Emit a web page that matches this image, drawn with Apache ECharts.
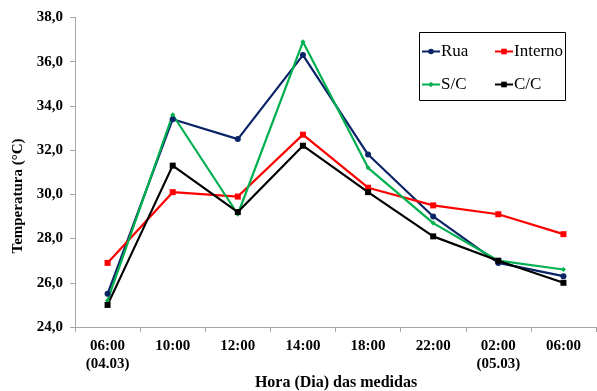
<!DOCTYPE html>
<html>
<head>
<meta charset="utf-8">
<script src="https://cdn.jsdelivr.net/npm/echarts@6/dist/echarts.min.js"></script>
<style>
  html, body { margin: 0; padding: 0; background: #fff; }
  #chart { width: 597px; height: 391px; }
</style>
</head>
<body>
<div id="chart"></div>
<script>
// Measurement times (hour and day)
const categories = ['06:00\n(04.03)', '10:00', '12:00', '14:00', '18:00', '22:00', '02:00\n(05.03)', '06:00'];

// Temperatures (°C) per location
const rua     = [25.5, 33.4, 32.5, 36.3, 31.8, 29.0, 26.9, 26.3];
const interno = [26.9, 30.1, 29.9, 32.7, 30.3, 29.5, 29.1, 28.2];
const sc      = [25.2, 33.6, 29.1, 36.9, 31.2, 28.7, 27.0, 26.6];
const cc      = [25.0, 31.3, 29.2, 32.2, 30.1, 28.1, 27.0, 26.0];

// Y-axis range
const yMin = 24, yMax = 38, yStep = 2;

const FONT = '"Liberation Serif", "Times New Roman", serif';

const seriesDefs = [
  { name: 'Rua',     data: rua,     color: '#0B2468', symbol: 'circle',  size: 6 },
  { name: 'Interno', data: interno, color: '#FF0000', symbol: 'rect',    size: 6 },
  { name: 'S/C',     data: sc,      color: '#00B050', symbol: 'diamond', size: 5 },
  { name: 'C/C',     data: cc,      color: '#000000', symbol: 'rect',    size: 6 }
];

// One legend per entry, laid out as a 2x2 block inside a framed box
const legendPos = [
  { left: 421, top: 43 }, { left: 494, top: 43 },
  { left: 421, top: 76 }, { left: 494, top: 76 }
];

const chart = echarts.init(document.getElementById('chart'));
chart.setOption({
  animation: false,
  backgroundColor: '#ffffff',
  grid: { left: 75, right: 1, top: 17.5, bottom: 64, containLabel: false },
  xAxis: {
    type: 'category',
    data: categories,
    boundaryGap: true,
    axisLine: { lineStyle: { color: '#A6A6A6', width: 1 } },
    axisTick: { show: true, interval: 0, length: 5, lineStyle: { color: '#A6A6A6' } },
    axisLabel: {
      interval: 0, margin: 10,
      fontFamily: FONT, fontWeight: 'bold', fontSize: 15, color: '#000',
      lineHeight: 18
    },
    splitLine: { show: false }
  },
  yAxis: {
    type: 'value',
    min: yMin, max: yMax, interval: yStep,
    axisLine: { show: true, lineStyle: { color: '#A6A6A6', width: 1 } },
    axisTick: { show: true, length: 5, lineStyle: { color: '#A6A6A6' } },
    axisLabel: {
      margin: 12,
      fontFamily: FONT, fontWeight: 'bold', fontSize: 15, color: '#000',
      formatter: v => v.toFixed(1).replace('.', ',')
    },
    splitLine: { show: false }
  },
  legend: seriesDefs.map((s, i) => ({
    data: [s.name],
    left: legendPos[i].left,
    top: legendPos[i].top,
    padding: 0,
    itemWidth: 18,
    itemHeight: 7,
    itemGap: 0,
    textStyle: { fontFamily: FONT, fontSize: 17, color: '#000', padding: [0, 0, 0, -4] },
    selectedMode: false
  })),
  graphic: [
    {
      type: 'rect',
      shape: { x: 419.5, y: 32.5, width: 146, height: 68 },
      style: { fill: 'none', stroke: '#000', lineWidth: 1 },
      z: 100
    },
    {
      type: 'text',
      x: 18, y: 196,
      rotation: Math.PI / 2,
      style: {
        text: 'Temperatura (°C)',
        font: 'bold 15px ' + FONT,
        fill: '#000',
        align: 'center', verticalAlign: 'middle'
      }
    },
    {
      type: 'text',
      x: 336, y: 383,
      style: {
        text: 'Hora (Dia) das medidas',
        font: 'bold 16px ' + FONT,
        fill: '#000',
        align: 'center', verticalAlign: 'middle'
      }
    }
  ],
  series: seriesDefs.map(s => ({
    name: s.name,
    type: 'line',
    data: s.data,
    symbol: s.symbol,
    symbolSize: s.size,
    showSymbol: true,
    lineStyle: { color: s.color, width: 2.2 },
    itemStyle: { color: s.color },
    emphasis: { disabled: true }
  }))
});
</script>
</body>
</html>
